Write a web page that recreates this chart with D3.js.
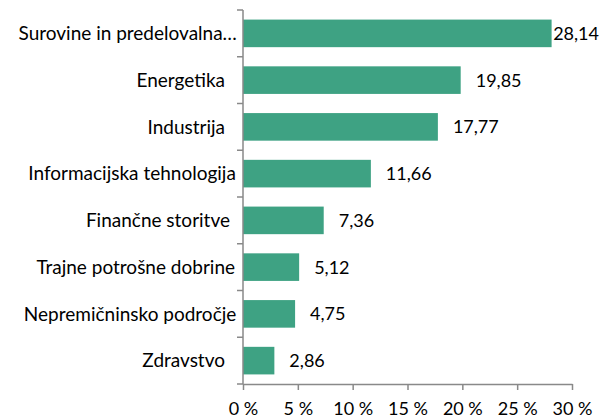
<!DOCTYPE html>
<html>
<head>
<meta charset="utf-8">
<script src="https://cdn.jsdelivr.net/npm/d3@7"></script>
<style>
  body { margin: 0; background: #fff; }
  text { font-family: Lato, "Open Sans", sans-serif; fill: #000; }
</style>
</head>
<body>
<div class="chart"></div>
<script>
const categories = [
  'Surovine in predelovalna…',
  'Energetika',
  'Industrija',
  'Informacijska tehnologija',
  'Finančne storitve',
  'Trajne potrošne dobrine',
  'Nepremičninsko področje',
  'Zdravstvo'
];
const values = [28.14, 19.85, 17.77, 11.66, 7.36, 5.12, 4.75, 2.86];
const xTicks = [0, 5, 10, 15, 20, 25, 30];

const chartWidth = 602;
const chartHeight = 418;
const margin = { left: 243, right: 30, top: 10, bottom: 34 };
const width = chartWidth - margin.left - margin.right;
const height = chartHeight - margin.top - margin.bottom;

const svg = d3.select('.chart')
  .append('svg')
  .attr('width', chartWidth)
  .attr('height', chartHeight)
  .append('g')
  .attr('transform', `translate(${margin.left}, ${margin.top})`);

const xScale = d3.scaleLinear()
  .domain([0, 30])
  .range([0, width]);

const yScale = d3.scaleBand()
  .domain(categories)
  .range([0, height])
  .paddingInner(0.41)
  .paddingOuter(0.205);

const data = categories.map((c, i) => ({ name: c, value: values[i] }));

// bars
svg.append('g')
  .selectAll('rect')
  .data(data)
  .enter()
  .append('rect')
  .attr('x', 0)
  .attr('y', d => yScale(d.name))
  .attr('width', d => xScale(d.value))
  .attr('height', yScale.bandwidth())
  .attr('fill', '#3ea283');

// value labels, pushed back inside the chart when they would run off
svg.append('g')
  .selectAll('text')
  .data(data)
  .enter()
  .append('text')
  .attr('y', d => yScale(d.name) + yScale.bandwidth() / 2)
  .attr('dy', '0.36em')
  .attr('font-size', '18px')
  .text(d => d.value.toFixed(2).replace('.', ','))
  .attr('x', function (d) {
    const w = this.getComputedTextLength();
    const maxX = chartWidth - margin.left - 3 - w;
    return Math.min(xScale(d.value) + 15, maxX);
  });

// x axis
const xAxis = d3.axisBottom(xScale)
  .tickValues(xTicks)
  .tickSize(6)
  .tickSizeOuter(0)
  .tickPadding(12)
  .tickFormat(d => `${d} %`);

const xAxisEl = svg.append('g')
  .attr('transform', `translate(0, ${height})`)
  .call(xAxis);
xAxisEl.select('.domain').attr('stroke', '#898989').attr('stroke-width', 1.5);
xAxisEl.selectAll('.tick line').attr('stroke', '#898989').attr('stroke-width', 1.5);
xAxisEl.selectAll('.tick text')
  .attr('font-size', '18px')
  .attr('font-family', 'Lato, "Open Sans", sans-serif')
  .attr('fill', '#000');

// y axis: line plus ticks between categories
const yAxisEl = svg.append('g');
yAxisEl.append('line')
  .attr('x1', 0).attr('x2', 0)
  .attr('y1', 0).attr('y2', height)
  .attr('stroke', '#898989')
  .attr('stroke-width', 1.5);
const step = yScale.step();
yAxisEl.selectAll('line.tick')
  .data(d3.range(categories.length + 1))
  .enter()
  .append('line')
  .attr('class', 'tick')
  .attr('x1', -6).attr('x2', 0)
  .attr('y1', i => i * step)
  .attr('y2', i => i * step)
  .attr('stroke', '#898989')
  .attr('stroke-width', 1.5);

// category labels, Excel-like: long labels sit closer to the axis
yAxisEl.selectAll('text')
  .data(data)
  .enter()
  .append('text')
  .attr('y', d => yScale(d.name) + yScale.bandwidth() / 2)
  .attr('dy', '0.36em')
  .attr('font-size', '19px')
  .attr('text-anchor', 'end')
  .text(d => d.name)
  .attr('x', function () {
    const w = this.getComputedTextLength();
    const t = Math.max(0, Math.min(1, (w - 90) / 130));
    return -18 + 12 * t;
  });
</script>
</body>
</html>
